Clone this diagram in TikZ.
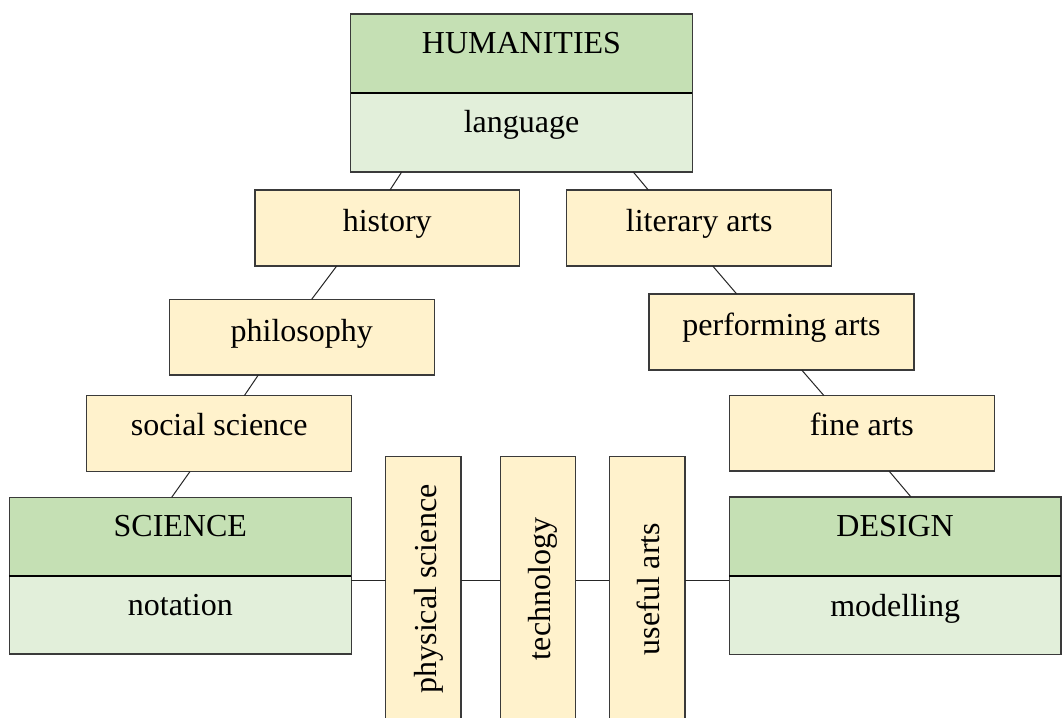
\documentclass[tikz,border=0pt]{standalone}
\usepackage{fontspec}
\setmainfont{Liberation Serif}
\usetikzlibrary{calc}
\definecolor{gdark}{HTML}{C5E0B4}
\definecolor{glight}{HTML}{E2EFDA}
\definecolor{ybox}{HTML}{FFF2CC}
\definecolor{edge}{HTML}{3A3A3A}
\tikzset{
  boxbase/.style={draw=edge, line width=1.2pt, inner sep=0pt, outer sep=0pt, anchor=north west},
  ybx/.style={boxbase, fill=ybox},
  gtop/.style={boxbase, fill=gdark},
  gbot/.style={boxbase, fill=glight},
  divider/.style={black, line width=2pt},
  txt/.style={font=\fontsize{32}{38}\selectfont, inner sep=0pt, anchor=base, text=black},
  conn/.style={draw=black!85, line width=1pt}
}
\begin{document}
\begin{tikzpicture}[x=1pt, y=-1pt]
\useasboundingbox (0,0) rectangle (1062,717);
\clip (0,0) rectangle (1062,717);
\fill[white] (0,0) rectangle (1062,717);

% HUMANITIES
\node[gtop, minimum width=341.6pt, minimum height=78.5pt] (hum) at (350.7,14) {};
\node[gbot, minimum width=341.6pt, minimum height=79.5pt] (humb) at (350.7,92.5) {};
\draw[divider] (humb.north west) -- (humb.north east);
\node[txt] (humt) at ([yshift=-40pt]hum.north) {HUMANITIES};
\node[txt] (humbt) at ([yshift=-40pt]humb.north) {language};

% yellow boxes
\node[ybx, minimum width=264.5pt, minimum height=76pt] (hist) at (255,190) {};
\node[txt] (histt) at ([yshift=-41pt]hist.north) {history};
\node[ybx, minimum width=265pt, minimum height=76pt] (lit) at (566.7,190) {};
\node[txt] (litt) at ([yshift=-41pt]lit.north) {literary arts};
\node[ybx, minimum width=265pt, minimum height=75.7pt] (phil) at (169.3,299.3) {};
\node[txt] (philt) at ([yshift=-42pt]phil.north) {philosophy};
\node[ybx, minimum width=265pt, minimum height=76pt] (perf) at (649,294) {};
\node[txt] (perft) at ([yshift=-41pt]perf.north) {performing arts};
\node[ybx, minimum width=265pt, minimum height=75.8pt] (soc) at (86.7,395.7) {};
\node[txt] (soct) at ([yshift=-39.5pt]soc.north) {social science};
\node[ybx, minimum width=265pt, minimum height=75.3pt] (fine) at (729.3,395.7) {};
\node[txt] (finet) at ([yshift=-39.5pt]fine.north) {fine arts};

% SCIENCE
\node[gtop, minimum width=342pt, minimum height=78.7pt] (sci) at (9.3,497.3) {};
\node[gbot, minimum width=342pt, minimum height=78pt] (scib) at (9.3,576) {};
\draw[divider] (scib.north west) -- (scib.north east);
\node[txt] (scit) at ([yshift=-39.5pt]sci.north) {SCIENCE};
\node[txt] (scibt) at ([yshift=-39pt]scib.north) {notation};

% DESIGN
\node[gtop, minimum width=331.7pt, minimum height=79pt] (des) at (729.3,497) {};
\node[gbot, minimum width=331.7pt, minimum height=78.5pt] (desb) at (729.3,576) {};
\draw[divider] (desb.north west) -- (desb.north east);
\node[txt] (dest) at ([yshift=-39.7pt]des.north) {DESIGN};
\node[txt] (desbt) at ([yshift=-40.5pt]desb.north) {modelling};

% vertical boxes
\node[ybx, minimum width=75.3pt, minimum height=300pt] (phys) at (385.7,456.7) {};
\node[txt, rotate=90] (physt) at (436.5,589) {physical science};
\node[ybx, minimum width=75.5pt, minimum height=300pt] (tech) at (500.3,456.7) {};
\node[txt, rotate=90] (techt) at (550,589) {technology};
\node[ybx, minimum width=75.7pt, minimum height=300pt] (use) at (609.3,456.7) {};
\node[txt, rotate=90] (uset) at (659.5,589) {useful arts};

% connectors
\draw[conn] ([xshift=51pt]humb.south west) -- ([xshift=135pt]hist.north west);
\draw[conn] ([xshift=282.6pt]humb.south west) -- ([xshift=81.6pt]lit.north west);
\draw[conn] ([xshift=81.7pt]hist.south west) -- ([xshift=142.4pt]phil.north west);
\draw[conn] ([xshift=89pt]phil.south west) -- ([xshift=157.6pt]soc.north west);
\draw[conn] ([xshift=103.3pt]soc.south west) -- ([xshift=162.4pt]sci.north west);
\draw[conn] ([xshift=146pt]lit.south west) -- ([xshift=87.7pt]perf.north west);
\draw[conn] ([xshift=152.7pt]perf.south west) -- ([xshift=94.7pt]fine.north west);
\draw[conn] ([xshift=159.7pt]fine.south west) -- ([xshift=181.7pt]des.north west);

\coordinate (hy) at (0,580);
\draw[conn] (scib.east |- hy) -- (phys.west |- hy);
\draw[conn] (phys.east |- hy) -- (tech.west |- hy);
\draw[conn] (tech.east |- hy) -- (use.west |- hy);
\draw[conn] (use.east |- hy) -- (desb.west |- hy);
\end{tikzpicture}
\end{document}
